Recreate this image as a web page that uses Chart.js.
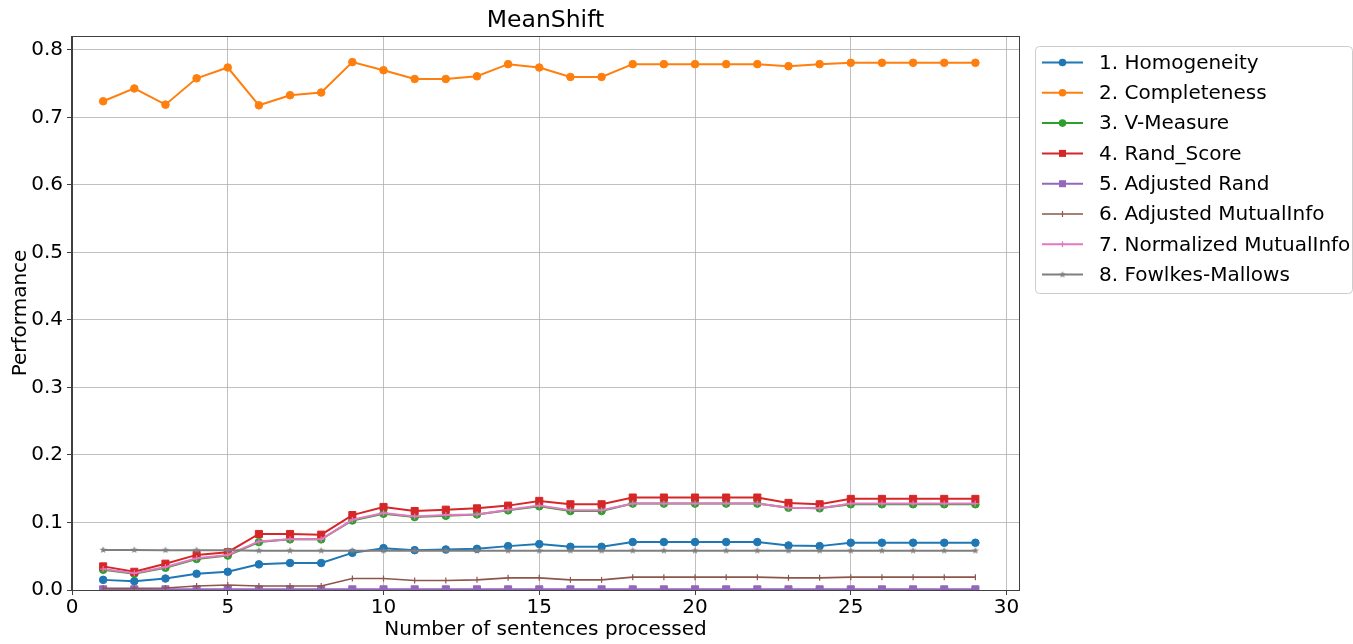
<!DOCTYPE html>
<html>
<head>
<meta charset="utf-8">
<script src="https://cdn.jsdelivr.net/npm/chart.js@4/dist/chart.umd.min.js"></script>
<style>
html,body{margin:0;padding:0;background:#fff;}
#wrap{position:relative;width:1353px;height:644px;}
</style>
</head>
<body>
<div id="wrap"><canvas id="c"></canvas></div>
<script>
const chartTitle = 'MeanShift';
const xAxisTitle = 'Number of sentences processed';
const yAxisTitle = 'Performance';
const sentences = [1,2,3,4,5,6,7,8,9,10,11,12,13,14,15,16,17,18,19,20,21,22,23,24,25,26,27,28,29];
const xTicks = [0,5,10,15,20,25,30];
const yTicks = [0.0,0.1,0.2,0.3,0.4,0.5,0.6,0.7,0.8];
const seriesNames = ['1. Homogeneity','2. Completeness','3. V-Measure','4. Rand_Score','5. Adjusted Rand','6. Adjusted MutualInfo','7. Normalized MutualInfo','8. Fowlkes-Mallows'];

const homogeneity  = [0.015,0.013,0.017,0.024,0.027,0.038,0.040,0.040,0.055,0.062,0.059,0.060,0.061,0.065,0.068,0.064,0.064,0.071,0.071,0.071,0.071,0.071,0.066,0.065,0.070,0.070,0.070,0.070,0.070];
const completeness = [0.724,0.743,0.719,0.758,0.774,0.718,0.733,0.737,0.782,0.770,0.757,0.757,0.761,0.779,0.774,0.760,0.760,0.779,0.779,0.779,0.779,0.779,0.776,0.779,0.781,0.781,0.781,0.781,0.781];
const vMeasure     = [0.030,0.024,0.033,0.046,0.051,0.071,0.075,0.075,0.103,0.113,0.108,0.110,0.112,0.118,0.124,0.117,0.117,0.128,0.128,0.128,0.128,0.128,0.122,0.121,0.127,0.127,0.127,0.127,0.127];
const randScore    = [0.035,0.027,0.039,0.052,0.056,0.083,0.083,0.082,0.111,0.123,0.117,0.119,0.121,0.125,0.132,0.127,0.127,0.137,0.137,0.137,0.137,0.137,0.129,0.127,0.135,0.135,0.135,0.135,0.135];
const adjustedRand = [0.001,0.001,0.001,0.001,0.001,0.001,0.001,0.001,0.001,0.001,0.001,0.001,0.001,0.001,0.001,0.001,0.001,0.001,0.001,0.001,0.001,0.001,0.001,0.001,0.001,0.001,0.001,0.001,0.001];
const adjustedMI   = [0.0025,0.0025,0.003,0.006,0.0075,0.006,0.006,0.006,0.017,0.017,0.014,0.014,0.015,0.018,0.018,0.015,0.015,0.019,0.019,0.019,0.019,0.019,0.018,0.018,0.019,0.019,0.019,0.019,0.019];
const normalizedMI = [0.031,0.025,0.034,0.047,0.052,0.072,0.075,0.075,0.104,0.114,0.109,0.111,0.112,0.119,0.125,0.118,0.118,0.128,0.128,0.128,0.128,0.128,0.122,0.121,0.128,0.128,0.128,0.128,0.128];
const fowlkesMallows = [0.0593,0.0593,0.059,0.059,0.0588,0.0583,0.0583,0.0583,0.0583,0.0583,0.0583,0.0583,0.0583,0.0583,0.0583,0.0583,0.0583,0.0583,0.0583,0.0583,0.0583,0.0583,0.0583,0.0583,0.0583,0.0583,0.0583,0.0583,0.0583];

const seriesValues = [homogeneity, completeness, vMeasure, randScore, adjustedRand, adjustedMI, normalizedMI, fowlkesMallows];
const colors = ['#1f77b4','#ff7f0e','#2ca02c','#d62728','#9467bd','#8c564b','#e377c2','#7f7f7f'];
const markers = ['circle','circle','circle','rect','rect','vline','cross','star'];

const FONT = "'DejaVu Sans', sans-serif";

function starCanvas(color, r){
  const s = Math.ceil(r*2+2);
  const cv = document.createElement('canvas');
  cv.width = s; cv.height = s;
  const g = cv.getContext('2d');
  g.fillStyle = color;
  g.beginPath();
  for(let i=0;i<10;i++){
    const ang = -Math.PI/2 + i*Math.PI/5;
    const rr = i%2===0 ? r : r*0.42;
    const px = s/2 + rr*Math.cos(ang), py = s/2 + rr*Math.sin(ang);
    if(i===0) g.moveTo(px,py); else g.lineTo(px,py);
  }
  g.closePath(); g.fill();
  return cv;
}

function pointOpts(kind, color){
  switch(kind){
    case 'circle': return {pointStyle:'circle', pointRadius:3.8, pointRotation:0, pointBorderWidth:1};
    case 'rect': return {pointStyle:'rect', pointRadius:5, pointRotation:0, pointBorderWidth:1};
    case 'vline': return {pointStyle:'line', pointRadius:3, pointRotation:90, pointBorderWidth:1.2};
    case 'cross': return {pointStyle:'cross', pointRadius:3, pointRotation:0, pointBorderWidth:1.2};
    case 'star': return {pointStyle:starCanvas(color,3.8), pointRadius:3.8, pointRotation:0, pointBorderWidth:1};
  }
}

const datasets = seriesNames.map((name,i)=>{
  const po = pointOpts(markers[i], colors[i]);
  return Object.assign({
    label: name,
    data: sentences.map((s,j)=>({x:s, y:seriesValues[i][j]})),
    borderColor: colors[i],
    backgroundColor: colors[i],
    pointBackgroundColor: colors[i],
    pointBorderColor: colors[i],
    borderWidth: markers[i]==='vline' ? 1.6 : 2,
    tension: 0,
    order: seriesNames.length - i,
    pointHoverRadius: po.pointRadius
  }, po);
});

function drawMarker(ctx, kind, x, y, color){
  ctx.save();
  ctx.fillStyle = color; ctx.strokeStyle = color;
  if(kind==='circle'){
    ctx.beginPath(); ctx.arc(x,y,3.8,0,Math.PI*2); ctx.fill();
  } else if(kind==='rect'){
    ctx.fillRect(x-3.5,y-3.5,7,7);
  } else if(kind==='vline'){
    ctx.lineWidth=1.2; ctx.beginPath(); ctx.moveTo(x,y-3); ctx.lineTo(x,y+3); ctx.stroke();
  } else if(kind==='cross'){
    ctx.lineWidth=1.2; ctx.beginPath(); ctx.moveTo(x,y-3); ctx.lineTo(x,y+3); ctx.moveTo(x-3,y); ctx.lineTo(x+3,y); ctx.stroke();
  } else if(kind==='star'){
    const cv = starCanvas(color,3.6);
    ctx.drawImage(cv, x-cv.width/2, y-cv.height/2);
  }
  ctx.restore();
}

const framePlugin = {
  id:'frame',
  afterDraw(chart){
    const {ctx, chartArea:a} = chart;
    ctx.save();
    ctx.strokeStyle = '#404040';
    ctx.lineWidth = 1;
    ctx.strokeRect(Math.round(a.left)-0.5, Math.round(a.top)+0.5, Math.round(a.right-a.left)+1, Math.round(a.bottom-a.top));
    ctx.restore();

    // legend
    const lx = 1035.5, ly = 46.5, lw = 317, lh = 247;
    ctx.save();
    ctx.fillStyle = 'rgba(255,255,255,0.8)';
    ctx.strokeStyle = '#cccccc';
    ctx.lineWidth = 1;
    ctx.beginPath();
    ctx.roundRect(lx, ly, lw, lh, 4);
    ctx.fill(); ctx.stroke();
    ctx.font = '20px ' + FONT;
    ctx.textBaseline = 'middle';
    ctx.textAlign = 'left';
    seriesNames.forEach((name,i)=>{
      const y = 62.5 + i*30.3;
      ctx.strokeStyle = colors[i];
      ctx.lineWidth = markers[i]==='vline' ? 1.6 : 2;
      ctx.beginPath(); ctx.moveTo(1042, y); ctx.lineTo(1083, y); ctx.stroke();
      drawMarker(ctx, markers[i], 1062.5, y, colors[i]);
      ctx.fillStyle = '#000';
      ctx.fillText(name, 1099, y+1);
    });
    ctx.restore();
  }
};

new Chart(document.getElementById('c'), {
  type:'line',
  data:{datasets},
  plugins:[framePlugin],
  options:{
    responsive:true,
    maintainAspectRatio:false,
    animation:false,
    layout:{padding:{left:0, right:334, top:0, bottom:0}},
    plugins:{
      legend:{display:false},
      tooltip:{enabled:false},
      title:{display:true, text:chartTitle, fullSize:false, color:'#000',
        font:{family:FONT, size:23.5, weight:'normal', lineHeight:1.2},
        padding:{top:7, bottom:0.8}}
    },
    scales:{
      x:{
        type:'linear', min:0, max:30.4,
        afterBuildTicks(scale){ scale.ticks = xTicks.map(v=>({value:v})); },
        afterFit(scale){ scale.height = 54; },
        grid:{color:'#b0b0b0', lineWidth:0.8, drawTicks:true, tickLength:5, tickColor:'#404040', tickWidth:1},
        border:{display:true, color:'#404040', width:1},
        ticks:{color:'#000', font:{family:FONT, size:20}, padding:1, maxRotation:0, autoSkip:false,
          callback:(v)=>String(v)},
        title:{display:true, text:xAxisTitle, color:'#000', font:{family:FONT, size:20}, padding:{top:0,bottom:2}}
      },
      y:{
        type:'linear', min:0, max:0.8207,
        afterBuildTicks(scale){ scale.ticks = yTicks.map(v=>({value:v})); },
        afterFit(scale){ scale.width = 72; },
        grid:{color:'#b0b0b0', lineWidth:0.8, drawTicks:true, tickLength:5, tickColor:'#404040', tickWidth:1},
        border:{display:true, color:'#404040', width:1},
        ticks:{color:'#000', font:{family:FONT, size:20}, padding:4, autoSkip:false,
          callback:(v)=>Number(v).toFixed(1)},
        title:{display:true, text:yAxisTitle, color:'#000', font:{family:FONT, size:20}, padding:{top:9,bottom:0}}
      }
    }
  }
});
</script>
</body>
</html>
